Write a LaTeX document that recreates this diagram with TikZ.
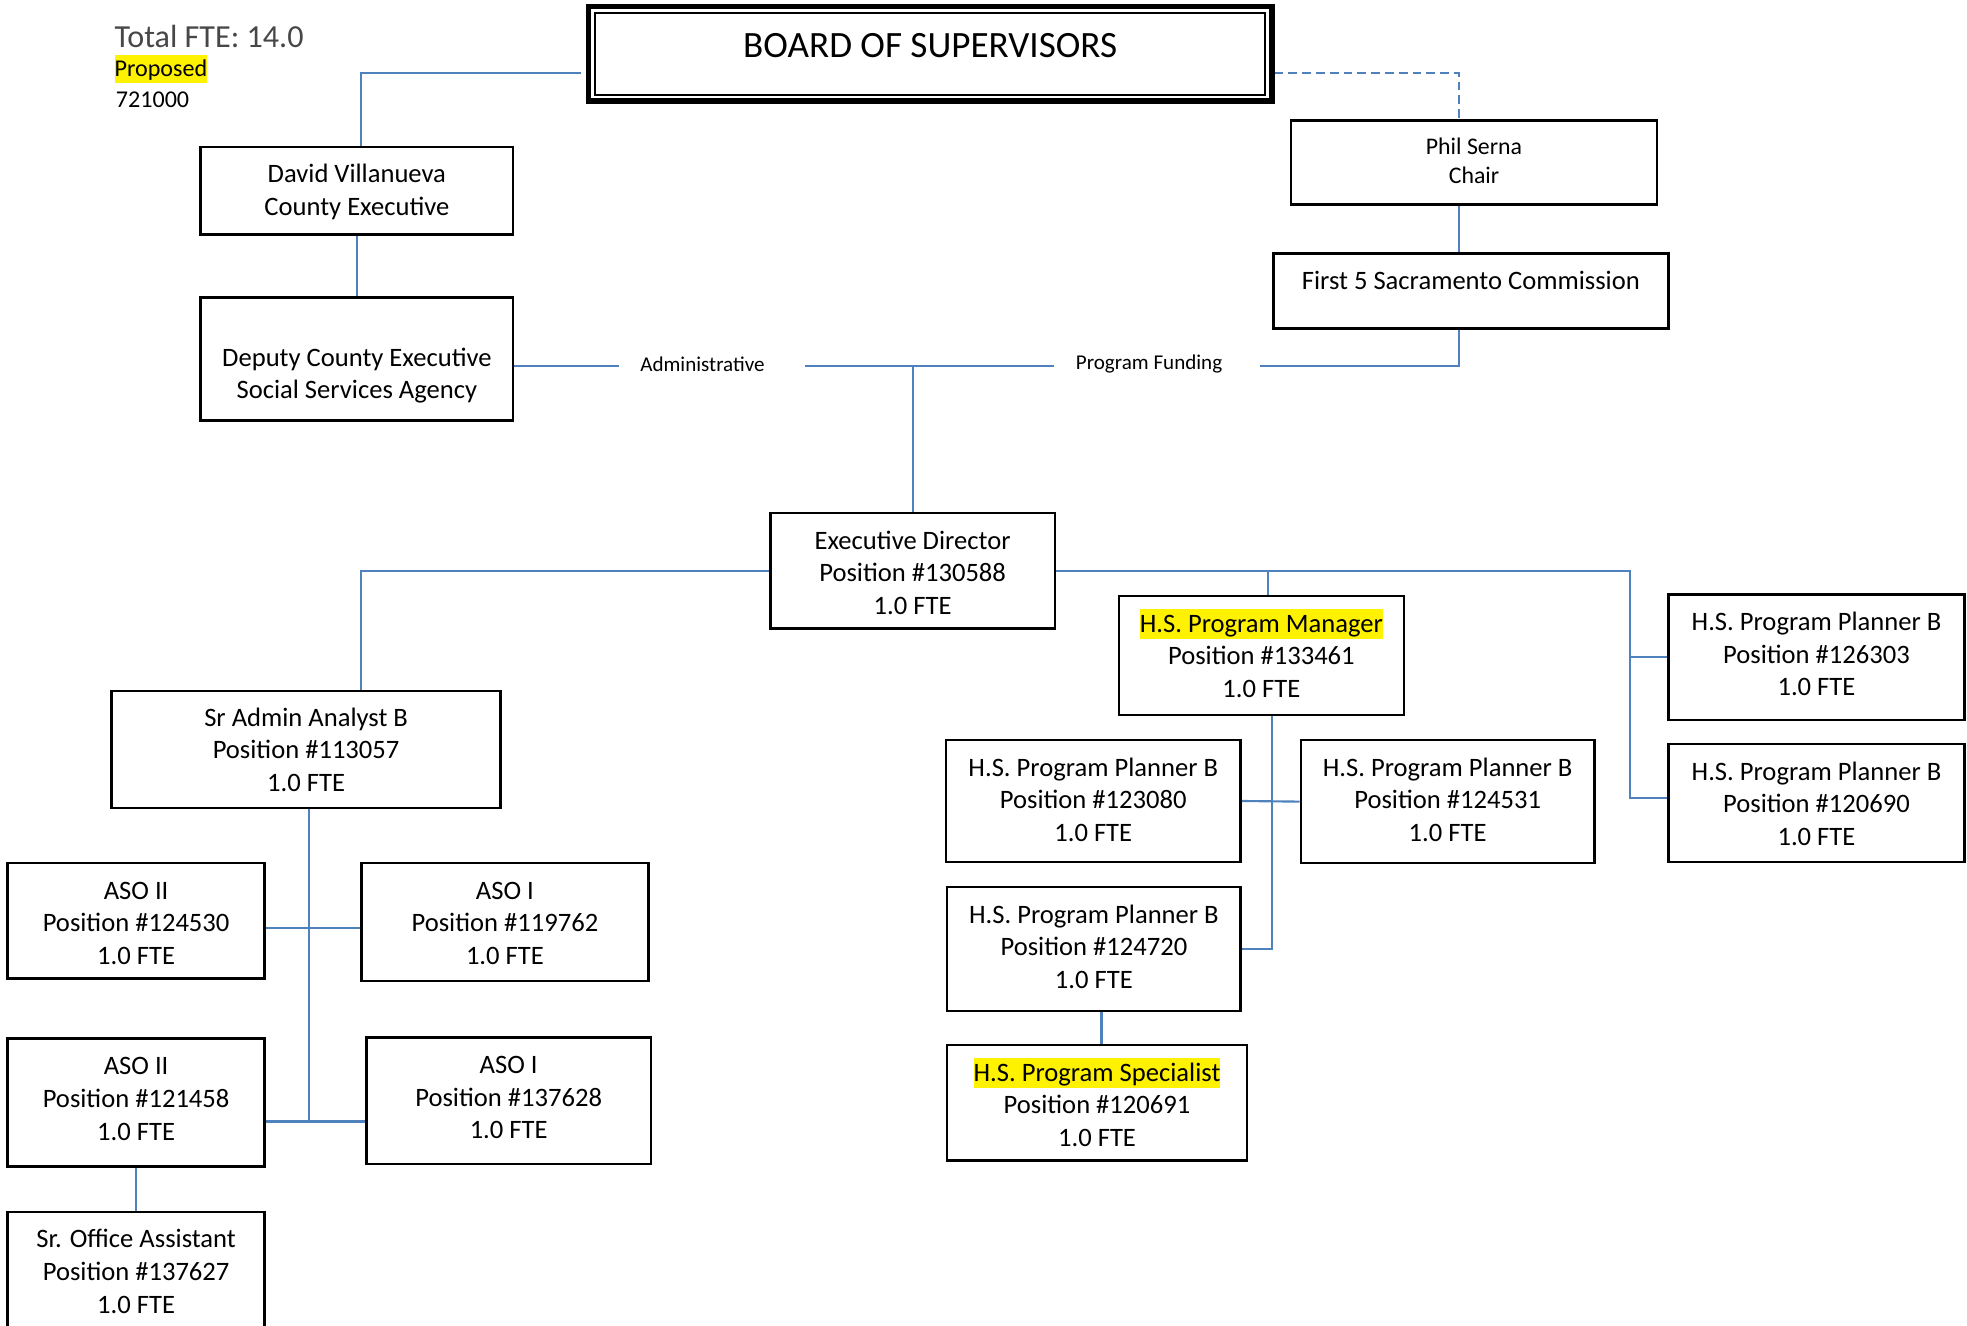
\documentclass[tikz,border=0pt]{standalone}
\usepackage{fontspec}
\setmainfont{Carlito}
\usetikzlibrary{calc}
\definecolor{linkblue}{RGB}{79,129,189}
\newcommand\hlb[1]{{\setlength\fboxsep{0pt}\colorbox{yellow}{\rule[-2.8pt]{0pt}{12pt}#1}}}
\newcommand\hlp[1]{{\setlength\fboxsep{0pt}\colorbox{yellow}{\rule[-2.6pt]{0pt}{11pt}#1}}}
\newcommand\orgbox[7][9.8]{\node[orgbx,minimum width={(#5-#3)*0.5pt},minimum height={(#6-#4)*0.5pt}] (#2) at ({(#3+#5)/2},{(#4+#6)/2}) {\rule{0pt}{#1pt}#7\rule[-3pt]{0pt}{3pt}};}
\begin{document}
\begin{tikzpicture}[x=0.5pt,y=-0.5pt,
  orgbx/.style={draw,line width=1pt,inner sep=0pt,align=center,
    font=\fontsize{10.6}{13}\selectfont},
  freetxt/.style={inner sep=0pt,align=center},
  lbl/.style={inner sep=0pt,font=\fontsize{8.4}{10}\selectfont},
  link/.style={draw=linkblue,line width=0.85pt}]
\useasboundingbox (0,0) rectangle (1568,1057);

% header text
\node[freetxt,anchor=base west,font=\fontsize{12.8}{15}\selectfont,text=black!72] (fte) at (91,38) {Total FTE: 14.0};
\node[freetxt,anchor=base west,font=\fontsize{9.6}{11.5}\selectfont] (prop) at (91,61) {\hlp{Proposed}};
\node[freetxt,anchor=base west,font=\fontsize{9.6}{11.5}\selectfont] (code) at (92,85.5) {721000};

% board of supervisors
\node[draw,line width=2.25pt,minimum width=272.25pt,minimum height=37.75pt,inner sep=0pt] (bos) at (741.5,43) {};
\draw[line width=0.75pt] ([shift={(7.5,7.5)}]bos.north west) rectangle ([shift={(-7.5,-7.5)}]bos.south east);
\node[freetxt,anchor=base,font=\fontsize{14.8}{18}\selectfont] (bost) at (741.5,46) {BOARD OF SUPERVISORS};

% top boxes
\orgbox[9.8]{david}{160}{117}{409}{187}{David Villanueva\\County Executive}
\orgbox{deputy}{160}{237}{409}{335}{}
\node[freetxt,font=\fontsize{10.6}{13}\selectfont,execute at end node=\strut] (deputyt) at (284.5,301.5) {Deputy County Executive\\Social Services Agency};
\node[orgbx,font=\fontsize{9.5}{11.5}\selectfont,minimum width=146pt,minimum height=33.5pt] (phil) at (1175,129.5) {\rule{0pt}{8.1pt}Phil Serna\\Chair\rule[-3pt]{0pt}{3pt}};
\orgbox{first5}{1015}{202}{1330}{262}{}
\node[freetxt,anchor=base,font=\fontsize{10.6}{13}\selectfont] (first5t) at (1172.5,230.5) {First 5 Sacramento Commission};

\node[lbl] (adm) at (560,290) {Administrative};
\node[lbl] (pf) at (916,290) {Program Funding};

% executive director and staff
\orgbox[11.8]{exec}{614}{409}{841}{501}{Executive Director\\Position \#130588\\1.0 FTE}
\orgbox[10.3]{mgr}{892}{475}{1119}{570}{\hlb{H.S. Program Manager}\\Position \#133461\\1.0 FTE}
\orgbox[9.3]{p123080}{754}{590}{989}{687}{H.S. Program Planner B\\Position \#123080\\1.0 FTE}
\orgbox[8.8]{p124531}{1037}{590}{1271}{688}{H.S. Program Planner B\\Position \#124531\\1.0 FTE}
\orgbox[8.3]{p124720}{755}{707}{989}{806}{H.S. Program Planner B\\Position \#124720\\1.0 FTE}
\orgbox[11.8]{spec}{755}{833}{994}{925}{\hlb{H.S. Program Specialist}\\Position \#120691\\1.0 FTE}
\orgbox[7.8]{p126303}{1330}{474}{1566}{574}{H.S. Program Planner B\\Position \#126303\\1.0 FTE}
\orgbox[10.8]{p120690}{1330}{593}{1566}{687}{H.S. Program Planner B\\Position \#120690\\1.0 FTE}
\orgbox[10.3]{sra}{89}{551}{399}{644}{Sr Admin Analyst B\\Position \#113057\\1.0 FTE}
\orgbox[11.8]{aso2a}{6}{688}{211}{780}{ASO II\\Position \#124530\\1.0 FTE}
\orgbox[10.8]{aso1a}{288}{688}{517}{782}{ASO I\\Position \#119762\\1.0 FTE}
\orgbox[6.8]{aso2b}{6}{828}{211}{930}{ASO II\\Position \#121458\\1.0 FTE}
\orgbox[7.3]{aso1b}{292}{827}{519}{928}{ASO I\\Position \#137628\\1.0 FTE}
\orgbox[9.8]{soa}{6}{966}{211}{1062}{Sr. Office Assistant\\Position \#137627\\1.0 FTE}

% connectors
\draw[link] ([shift={(-4,15)}]bos.west) -| ([shift={(3.5,0)}]david.north);
\draw[link,dash pattern=on 3.5pt off 2pt] ([shift={(0,15)}]bos.east) -| ([shift={(-12,0)}]phil.north);
\draw[link] (david.south) -- (deputy.north);
\coordinate (ps) at ([shift={(-12,0)}]phil.south);
\draw[link] (ps) -- (ps |- first5.north);
\coordinate (j) at (728,292);
\coordinate (aw) at ([shift={(-17,0)}]adm.west);
\coordinate (ae) at ([shift={(32,0)}]adm.east);
\coordinate (pw) at ([shift={(-17,0)}]pf.west);
\coordinate (pe) at ([shift={(30,0)}]pf.east);
\draw[link] (deputy.east |- j) -- (aw |- j);
\draw[link] (ae |- j) -- (pw |- j);
\draw[link] (pe |- j) -| ([shift={(-9.5,0)}]first5.south);
\draw[link] (j) -- (j |- exec.north);

\draw[link] (exec.west) -| ([shift={(44,0)}]sra.north);
\coordinate (rj) at ([shift={(457,0)}]exec.east);
\draw[link] (exec.east) -- (rj) |- ([shift={(0,-4)}]p120690.west);
\draw[link] (rj |- p126303.west) -- (p126303.west);
\coordinate (mtop) at ([shift={(5.5,0)}]mgr.north);
\draw[link] (mtop |- exec.east) -- (mtop);
\coordinate (mbot) at ([shift={(8.5,0)}]mgr.south);
\draw[link] (mbot) |- (p124720.east);
\draw[link] (p123080.east) -- (p124531.west);
\coordinate (sp) at ([shift={(6,0)}]p124720.south);
\draw[link] (sp) -- (sp |- spec.north);

\coordinate (sb) at ([shift={(2,0)}]sra.south);
\coordinate (l2) at ([shift={(0,15)}]aso2b.east);
\draw[link] (sb) -- (sb |- l2);
\draw[link] ([shift={(0,6)}]aso2a.east) -- ([shift={(0,5)}]aso1a.west);
\draw[link] (l2) -- ([shift={(0,16.5)}]aso1b.west);
\draw[link] (aso2b.south) -- (soa.north);
\end{tikzpicture}
\end{document}
